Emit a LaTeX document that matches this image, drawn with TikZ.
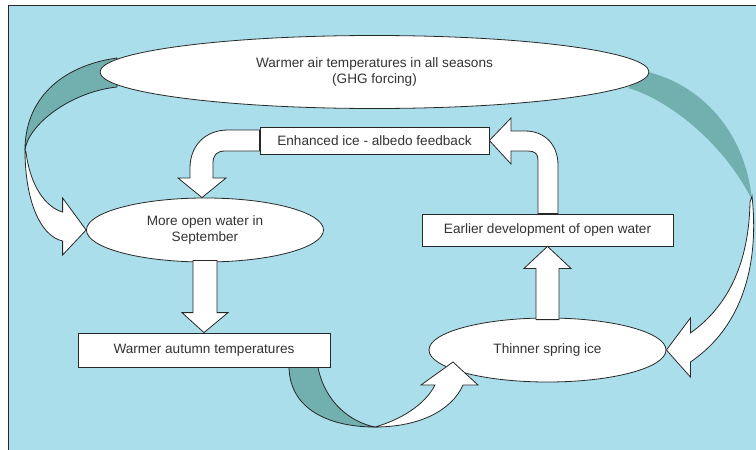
\documentclass[tikz,border=0pt]{standalone}
\usepackage{fontspec}
\setmainfont{Liberation Sans}
\usetikzlibrary{shapes.geometric,calc}
\definecolor{bg}{RGB}{170,222,234}
\definecolor{tealband}{RGB}{114,176,176}
\definecolor{txt}{RGB}{51,51,51}
\definecolor{ln}{RGB}{40,40,40}
\begin{document}
\begin{tikzpicture}[x=1pt,y=-1pt,
  lbl/.style={font=\fontsize{13.6}{16}\selectfont, text=txt, align=center},
  boxn/.style={lbl, draw=ln, fill=white, line width=0.8pt, inner sep=0pt},
  elln/.style={lbl, ellipse, draw=ln, fill=white, line width=0.8pt, inner sep=0pt},
  blockarrow/.style={draw=ln, fill=white, line width=0.8pt, line join=miter},
  band/.style={draw=ln, fill=tealband, line width=0.8pt},
  bandplain/.style={fill=tealband}]
\useasboundingbox (0,0) rectangle (756,450);
% frame
\draw[fill=bg, draw=ln, line width=1pt] (8,5) rectangle (775,470);

% back sides of the two big curved arrows (behind the top ellipse)
\coordinate (lbandtop) at (117,58);
\coordinate (lbandbot) at (117,87);
\coordinate (lbandend) at (25,150);
\path[band] (lbandtop) .. controls (60,66) and (25,100) .. (lbandend)
  .. controls (28,125) and (70,92) .. (lbandbot) -- cycle;
\coordinate (rbandtop) at (648,72);
\coordinate (rbandbot) at (628,88);
\coordinate (rbandend) at (752,200);
\path[bandplain] (rbandtop) .. controls (700,85) and (745,130) .. (rbandend)
  .. controls (725,145) and (670,100) .. (rbandbot) -- cycle;

% nodes
\node[elln, minimum width=549pt, minimum height=73pt] (top) at (374.5,72) {Warmer air temperatures in all seasons\\(GHG forcing)};
\node[boxn, minimum width=229pt, minimum height=27pt] (enh) at (374.5,140.5) {Enhanced ice - albedo feedback};
\node[boxn, minimum width=251pt, minimum height=32pt] (ear) at (547.5,230) {Earlier development of open water};
\node[boxn, minimum width=252pt, minimum height=34pt] (aut) at (204,350) {Warmer autumn temperatures};
\node[elln, minimum width=237pt, minimum height=64pt] (mow) at (205,230) {More open water in\\September};
\node[elln, minimum width=237pt, minimum height=64pt] (thi) at (547.5,350) {Thinner spring ice};

% front side of left big curved arrow (GHG -> More open water)
\path[blockarrow] (lbandend) .. controls (25,200) and (40,236) .. ($(mow.west)+(-23.5,11)$)
  -- ($(mow.west)+(-23.5,25)$) -- (mow.west) -- ($(mow.west)+(-23.5,-32)$)
  -- ($(mow.west)+(-23.5,-18)$) .. controls (45,207) and (30,185) .. (26,152) -- cycle;

% front side of right big curved arrow (GHG -> Thinner spring ice)
\path[blockarrow] (752,196) .. controls (759,260) and (745,325) .. ($(thi.east)+(24,12)$)
  -- ($(thi.east)+(24,27)$) -- (thi.east) -- ($(thi.east)+(24,-32)$)
  -- ($(thi.east)+(24,-17)$) .. controls (730,305) and (749,260) .. (750,202) -- cycle;

% straight arrows
\path[blockarrow] ($(mow.south)+(-12,-2)$) -- ($(aut.north)+(-11,-20)$) -- ($(aut.north)+(-22,-20)$)
  -- (aut.north) -- ($(aut.north)+(24,-20)$) -- ($(aut.north)+(13,-20)$) -- ($(mow.south)+(12,-2)$) -- cycle;
\path[blockarrow] ($(thi.north)+(-11.5,2)$) -- ($(ear.south)+(-11.5,22)$) -- ($(ear.south)+(-23.5,22)$)
  -- (ear.south) -- ($(ear.south)+(23.5,22)$) -- ($(ear.south)+(11.5,22)$) -- ($(thi.north)+(11.5,2)$) -- cycle;

% bent arrow: Enhanced -> More open water
\path[blockarrow] ($(enh.west)+(0,-10.5)$) -- (228,130) .. controls (205,130) and (190,146) .. (190,168)
  -- (190,178) -- (178,178) -- ($(mow.north)+(-3,0)$) -- (226,178) -- (213,178) -- (213,163)
  .. controls (213,155) and (217,151) .. (225,151) -- ($(enh.west)+(0,10.5)$) -- cycle;
% bent arrow: Earlier development -> Enhanced
\path[blockarrow] (enh.east) -- (511,118) -- (511,131) -- (525,131)
  .. controls (545,131) and (558,145) .. (558,165) -- ($(ear.north)+(10.5,0)$) -- ($(ear.north)+(-9.5,0)$)
  -- (538,160) .. controls (538,154) and (535,151) .. (528,151) -- (511,151) -- (511,164) -- cycle;

% bottom curved arrow: Warmer autumn -> Thinner spring ice
\coordinate (bturn) at (375,427);
\path[band] ($(aut.south)+(85,0)$) .. controls (290,410) and (330,427) .. (bturn)
  .. controls (350,422) and (325,402) .. ($(aut.south)+(114,0)$) -- cycle;
\path[blockarrow] (bturn) .. controls (420,427) and (452,410) .. (463,385)
  -- (478,385) -- (453,362) -- (421,385) -- (435,385)
  .. controls (425,405) and (400,420) .. (bturn) -- cycle;
\end{tikzpicture}
\end{document}
